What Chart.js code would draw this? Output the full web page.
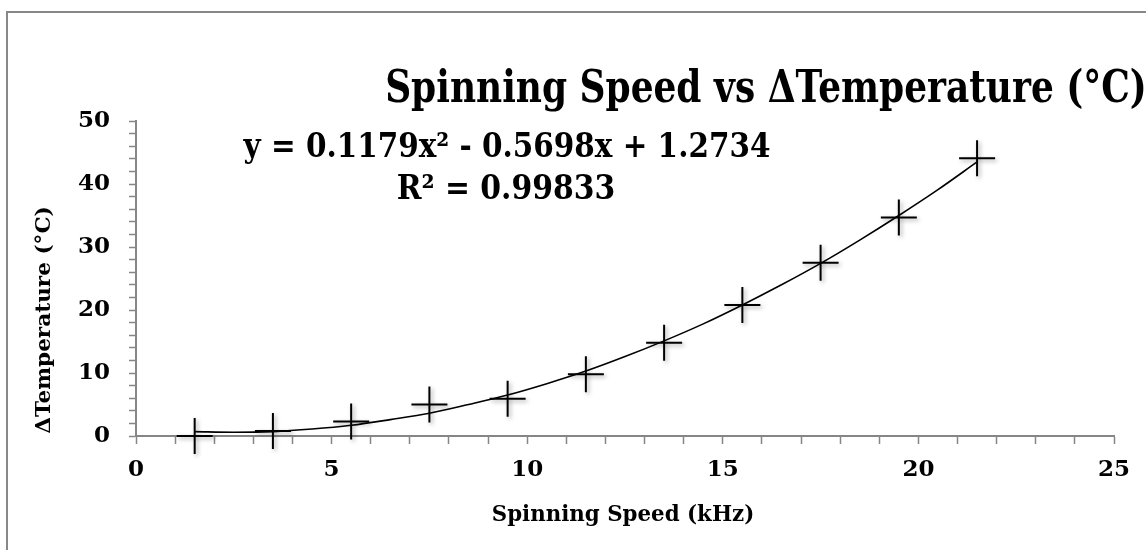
<!DOCTYPE html>
<html>
<head>
<meta charset="utf-8">
<script src="https://cdn.jsdelivr.net/npm/chart.js@4.4.1/dist/chart.umd.min.js"></script>
<style>
  html, body { margin: 0; padding: 0; background: #ffffff; }
  #wrap { position: relative; width: 1146px; height: 550px; }
</style>
</head>
<body>
<div id="wrap"><canvas id="c"></canvas></div>
<script>
// ---- data ----
const speedKHz = [1.5, 3.5, 5.5, 7.5, 9.5, 11.5, 13.5, 15.5, 17.5, 19.5, 21.5];
const deltaTemp = [0.0, 0.8, 2.3, 5.0, 5.9, 9.8, 14.8, 20.8, 27.5, 34.7, 44.1];
// trendline as traced on the picture
const trendX = [1.5, 2.5, 3.5, 4.5, 5.5, 6.5, 7.5, 8.5, 9.5, 10.5, 11.5, 12.5, 13.5, 14.5, 15.5, 16.5, 17.5, 18.5, 19.5, 20.5, 21.5];
const trendY = [0.7, 0.6, 0.7, 1.1, 1.7, 2.6, 3.6, 5.0, 6.5, 8.3, 10.3, 12.6, 15.1, 17.8, 20.8, 24.0, 27.4, 31.1, 35.0, 39.1, 43.5];
const xTickLabels = [0, 5, 10, 15, 20, 25];
const yTickLabels = [0, 10, 20, 30, 40, 50];
const chartTitle = 'Spinning Speed vs ΔTemperature (°C)';
const equationText = 'y = 0.1179x² - 0.5698x + 1.2734';
const r2Text = 'R² = 0.99833';
const xAxisTitle = 'Spinning Speed (kHz)';
const yAxisTitle = 'ΔTemperature (°C)';

const FONT = '"DejaVu Serif", "Liberation Serif", serif';
const AXIS_GREY = '#868686';

function drawFit(ctx, text, cx, base, cap, width, rotate) {
  ctx.save();
  ctx.font = 'bold 100px ' + FONT;
  const capRef = ctx.measureText('H').actualBoundingBoxAscent;
  const size = 100 * cap / capRef;
  ctx.font = 'bold ' + size + 'px ' + FONT;
  const m = ctx.measureText(text);
  const w = m.actualBoundingBoxLeft + m.actualBoundingBoxRight;
  const sx = width / w;
  ctx.translate(cx, base);
  if (rotate) ctx.rotate(-Math.PI / 2);
  ctx.scale(sx, 1);
  ctx.textAlign = 'center';
  ctx.textBaseline = 'alphabetic';
  ctx.fillStyle = '#000000';
  ctx.fillText(text, 0, 0);
  ctx.restore();
}

const decorPlugin = {
  id: 'decor',
  beforeDraw(chart) {
    const ctx = chart.ctx;
    ctx.save();
    ctx.fillStyle = '#ffffff';
    ctx.fillRect(0, 0, chart.width, chart.height);
    ctx.strokeStyle = '#888888';
    ctx.lineWidth = 2;
    ctx.beginPath();
    ctx.moveTo(7, chart.height);
    ctx.lineTo(7, 12);
    ctx.lineTo(chart.width, 12);
    ctx.stroke();
    ctx.restore();
  },
  beforeDatasetDraw(chart, args) {
    if (args.index === 0) {
      const ctx = chart.ctx;
      ctx.save();
      ctx.shadowColor = 'rgba(0,0,0,0.35)';
      ctx.shadowBlur = 4;
      ctx.shadowOffsetX = 2;
      ctx.shadowOffsetY = 2;
    }
  },
  afterDatasetDraw(chart, args) {
    if (args.index === 0) chart.ctx.restore();
  },
  afterDraw(chart) {
    const ctx = chart.ctx;
    drawFit(ctx, chartTitle, 766, 102, 32, 757, false);
    drawFit(ctx, equationText, 507, 157, 24, 527, false);
    drawFit(ctx, r2Text, 506, 199, 24, 216, false);
    drawFit(ctx, xAxisTitle, 623, 521, 16.5, 260, false);
    drawFit(ctx, yAxisTitle, 50, 320, 14.5, 226, true);
  }
};

new Chart(document.getElementById('c'), {
  type: 'scatter',
  data: {
    datasets: [
      {
        label: 'Data',
        data: speedKHz.map((x, i) => ({ x: x, y: deltaTemp[i] })),
        pointStyle: 'cross',
        pointRadius: 18,
        pointHoverRadius: 18,
        pointBorderWidth: 2,
        borderColor: '#000000',
        backgroundColor: '#000000',
        showLine: false,
        clip: false
      },
      {
        label: 'Trend',
        data: trendX.map((x, i) => ({ x: x, y: trendY[i] })),
        showLine: true,
        pointRadius: 0,
        borderColor: '#000000',
        borderWidth: 1.6,
        cubicInterpolationMode: 'monotone',
        fill: false,
        clip: false
      }
    ]
  },
  options: {
    responsive: true,
    maintainAspectRatio: false,
    animation: false,
    events: [],
    layout: { padding: { left: 0, right: 32, top: 121, bottom: 0 } },
    plugins: {
      legend: { display: false },
      title: { display: false },
      tooltip: { enabled: false }
    },
    scales: {
      x: {
        type: 'linear',
        min: 0,
        max: 25,
        afterFit(scale) { scale.height = 114; },
        afterBuildTicks(scale) {
          const t = [];
          for (let v = 0; v <= 25; v++) t.push({ value: v });
          scale.ticks = t;
        },
        ticks: {
          autoSkip: false,
          maxRotation: 0,
          padding: 12,
          color: '#000000',
          font: { family: FONT, weight: 'bold', size: 23 },
          callback: (v) => (xTickLabels.includes(v) ? String(v) : '')
        },
        grid: {
          drawOnChartArea: false,
          drawTicks: true,
          tickLength: 8,
          tickWidth: 1.5,
          tickColor: AXIS_GREY,
          color: AXIS_GREY
        },
        border: { display: true, color: AXIS_GREY, width: 2 }
      },
      y: {
        type: 'linear',
        min: 0,
        max: 50,
        afterFit(scale) { scale.width = 136; },
        afterBuildTicks(scale) {
          const t = [];
          for (let v = 0; v <= 50; v += 2) t.push({ value: v });
          scale.ticks = t;
        },
        ticks: {
          autoSkip: false,
          padding: 19,
          color: '#000000',
          font: { family: FONT, weight: 'bold', size: 23 },
          callback: (v) => (yTickLabels.includes(v) ? String(v) : '')
        },
        grid: {
          drawOnChartArea: false,
          drawTicks: true,
          tickLength: 7,
          tickWidth: 1.5,
          tickColor: AXIS_GREY,
          color: AXIS_GREY
        },
        border: { display: true, color: AXIS_GREY, width: 2 }
      }
    }
  },
  plugins: [decorPlugin]
});
</script>
</body>
</html>
